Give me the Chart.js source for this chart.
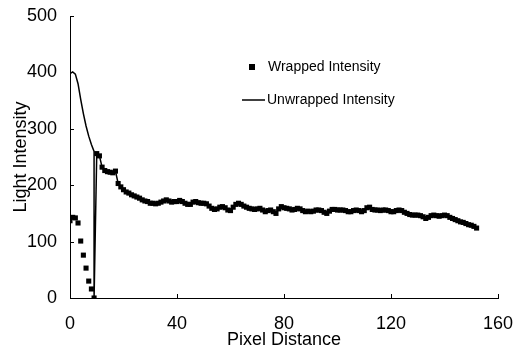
<!DOCTYPE html>
<html>
<head>
<meta charset="utf-8">
<script src="https://cdn.jsdelivr.net/npm/chart.js@4.4.1/dist/chart.umd.min.js"></script>
<style>
  body { margin: 0; background: #fff; }
  #wrap { width: 513px; height: 349px; position: relative; }
</style>
</head>
<body>
<div id="wrap"><canvas id="lightChart"></canvas></div>
<script>
// ------------------------------------------------------------
// DATA
// ------------------------------------------------------------

// first 10 pixels, before the wrap point
const headX = [0, 1, 2, 3, 4, 5, 6, 7, 8, 9];
const wrappedHead = [137, 143, 142, 133, 101, 76, 53, 30, 16, 0];

// unwrapped curve before the wrap; it drops to 0 at pixel 9
const unwrappedHeadX = [0, 1, 2, 3, 4, 5, 6, 7, 8, 9, 9];
const unwrappedHead = [398, 401, 397, 380, 352, 327, 305, 287, 272, 260, 0];

// pixel 10 .. 152, where both series coincide
const tailStart = 10;
const tailValues = [
  256, 252, 232, 226, 224, 223, 222, 225, 203, 197,   // 10-19
  192, 188, 186, 183, 181, 179, 177, 174, 172, 171,   // 20-29
  168, 168, 167, 168, 170, 172, 174, 172, 170, 171,   // 30-39
  171, 173, 171, 168, 166, 166, 170, 171, 169, 168,   // 40-49
  168, 167, 163, 159, 157, 158, 161, 162, 160, 156,   // 50-59
  155, 161, 166, 168, 166, 163, 161, 159, 158, 157,   // 60-69
  158, 159, 156, 153, 155, 156, 153, 150, 158, 162,   // 70-79
  160, 159, 158, 156, 157, 159, 158, 155, 153, 154,   // 80-89
  153, 154, 156, 156, 155, 152, 150, 154, 157, 157,   // 90-99
  156, 156, 156, 155, 153, 153, 155, 156, 155, 153,   // 100-109
  155, 160, 161, 157, 156, 156, 155, 156, 156, 155,   // 110-119
  153, 153, 155, 156, 155, 152, 150, 148, 147, 147,   // 120-129
  147, 146, 144, 141, 143, 146, 147, 146, 145, 146,   // 130-139
  147, 146, 143, 141, 139, 137, 135, 134, 132, 130,   // 140-149
  129, 127, 124                                        // 150-152
];

// axis ticks
const xTicks = [0, 40, 80, 120, 160];
const yTicks = [0, 100, 200, 300, 400, 500];

// ------------------------------------------------------------
// build point lists for Chart.js
// ------------------------------------------------------------
const tailPoints = tailValues.map(function(v, i) {
  return { x: tailStart + i, y: v };
});

const wrappedPoints = headX.map(function(x, i) {
  return { x: x, y: wrappedHead[i] };
}).concat(tailPoints);

const unwrappedPoints = unwrappedHeadX.map(function(x, i) {
  return { x: x, y: unwrappedHead[i] };
}).concat(tailPoints);

const FONT = "'Liberation Sans', Arial, sans-serif";

// small tick marks pointing into the plot
const innerTicks = {
  id: 'innerTicks',
  afterDraw(chart) {
    const ctx = chart.ctx;
    const xs = chart.scales.x;
    const ys = chart.scales.y;
    ctx.save();
    ctx.strokeStyle = '#000';
    ctx.lineWidth = 1;
    ctx.beginPath();
    xTicks.forEach(function(t) {
      const px = Math.round(xs.getPixelForValue(t)) + 0.5;
      ctx.moveTo(px, ys.bottom);
      ctx.lineTo(px, ys.bottom - 4);
    });
    yTicks.forEach(function(t) {
      const py = Math.round(ys.getPixelForValue(t)) + 0.5;
      ctx.moveTo(xs.left, py);
      ctx.lineTo(xs.left + 4, py);
    });
    ctx.stroke();
    ctx.restore();
  }
};

// legend drawn inside the plot, one entry per row
const innerLegend = {
  id: 'innerLegend',
  afterDraw(chart) {
    const ctx = chart.ctx;
    ctx.save();
    ctx.fillStyle = '#000';
    ctx.strokeStyle = '#000';
    ctx.font = '14px ' + FONT;
    ctx.textBaseline = 'middle';

    // wrapped: square marker
    ctx.fillRect(249, 64, 6, 6);
    ctx.fillText(chart.data.datasets[0].label, 268, 67);

    // unwrapped: short line
    ctx.lineWidth = 1.5;
    ctx.beginPath();
    ctx.moveTo(242, 100);
    ctx.lineTo(265, 100);
    ctx.stroke();
    ctx.fillText(chart.data.datasets[1].label, 267, 100);
    ctx.restore();
  }
};

const ctx = document.getElementById('lightChart').getContext('2d');

const lightChart = new Chart(ctx, {
  type: 'scatter',
  data: {
    datasets: [{
      label: 'Wrapped Intensity',
      data: wrappedPoints,
      showLine: false,
      pointStyle: 'rect',
      pointRadius: 3.6,
      pointBackgroundColor: '#000',
      pointBorderColor: '#000',
      pointBorderWidth: 0,
      order: 1
    }, {
      label: 'Unwrapped Intensity',
      data: unwrappedPoints,
      showLine: true,
      borderColor: '#000',
      borderWidth: 1.5,
      pointRadius: 0,
      tension: 0,
      order: 2
    }]
  },
  options: {
    responsive: true,
    maintainAspectRatio: false,
    animation: false,
    layout: { padding: { top: 16, right: 15, left: 0, bottom: 0 } },
    plugins: {
      legend: { display: false },
      tooltip: { enabled: false }
    },
    scales: {
      x: {
        type: 'linear',
        min: 0,
        max: 160,
        afterBuildTicks: function(scale) {
          scale.ticks = xTicks.map(function(v) { return { value: v }; });
        },
        afterFit: function(scale) {
          scale.height = 51;
          scale.paddingLeft = 0;
          scale.paddingRight = 0;
        },
        grid: { display: false, drawTicks: false },
        border: { display: true, color: '#000', width: 1 },
        ticks: {
          color: '#000',
          padding: 15,
          maxRotation: 0,
          font: { family: FONT, size: 18 }
        },
        title: {
          display: true,
          text: 'Pixel Distance',
          color: '#000',
          padding: 0,
          font: { family: FONT, size: 18, lineHeight: 1 }
        }
      },
      y: {
        min: 0,
        max: 500,
        afterBuildTicks: function(scale) {
          scale.ticks = yTicks.map(function(v) { return { value: v }; });
        },
        afterFit: function(scale) {
          scale.width = 70;
          scale.paddingTop = 0;
          scale.paddingBottom = 0;
        },
        grid: { display: false, drawTicks: false },
        border: { display: true, color: '#000', width: 1 },
        ticks: {
          color: '#000',
          padding: 13,
          font: { family: FONT, size: 18 }
        },
        title: {
          display: true,
          text: 'Light Intensity',
          color: '#000',
          padding: { top: 10, bottom: 0 },
          font: { family: FONT, size: 18, lineHeight: 1.2 }
        }
      }
    }
  },
  plugins: [innerTicks, innerLegend]
});
</script>
</body>
</html>
